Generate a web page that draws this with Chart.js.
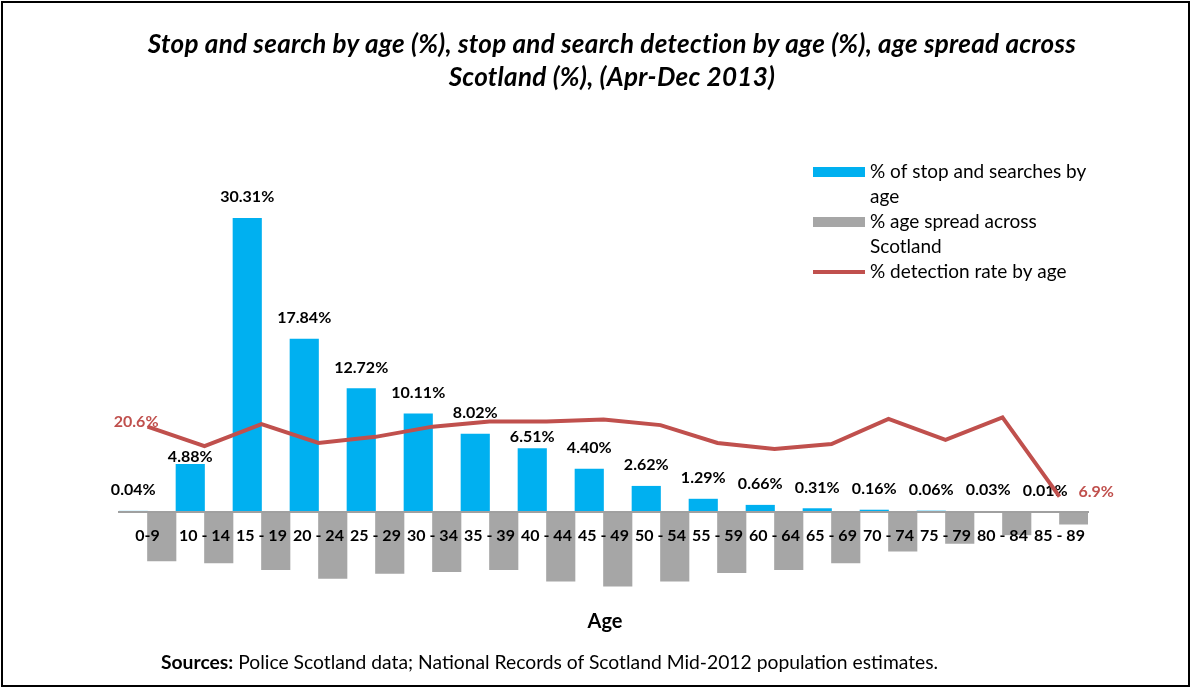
<!DOCTYPE html>
<html>
<head>
<meta charset="utf-8">
<title>Stop and search by age</title>
<script src="https://cdn.jsdelivr.net/npm/chart.js@4.4.1/dist/chart.umd.min.js"></script>
<style>
  body { margin: 0; background: #fff; }
  #wrap { position: relative; width: 1192px; height: 688px; overflow: hidden; font-family: Lato, sans-serif; color: #000; }
  #frame { position: absolute; left: 1px; top: 1px; width: 1189px; height: 686px; border: 2px solid #000; box-sizing: border-box; pointer-events: none; }
  #chart { position: absolute; left: 0; top: 0; }
  .titulo { position: absolute; left: 0; top: 27px; width: 1224px; text-align: center; font-style: italic; font-weight: bold; font-size: 26px; letter-spacing: 0.3px; line-height: 33px; }
  .eje { position: absolute; left: 0; top: 608px; width: 1210px; text-align: center; font-weight: bold; font-size: 20px; }
  .fuente { position: absolute; left: 161px; top: 650px; font-size: 19.3px; white-space: nowrap; }
</style>
</head>
<body>
<div id="wrap">
  <canvas id="chart" width="1192" height="688"></canvas>
  <div class="titulo">Stop and search by age (%), stop and search detection by age (%), age spread across<br>Scotland (%), (Apr-Dec 2013)</div>
  <div class="eje">Age</div>
  <div class="fuente"><b>Sources:</b> Police Scotland data; National Records of Scotland Mid-2012 population estimates.</div>
  <div id="frame"></div>
</div>
<script>
const ageGroups = ['0-9', '10 - 14', '15 - 19', '20 - 24', '25 - 29', '30 - 34', '35 - 39', '40 - 44', '45 - 49',
  '50 - 54', '55 - 59', '60 - 64', '65 - 69', '70 - 74', '75 - 79', '80 - 84', '85 - 89'];
const stopSearchPct = [0.04, 4.88, 30.31, 17.84, 12.72, 10.11, 8.02, 6.51, 4.40, 2.62, 1.29, 0.66, 0.31, 0.16, 0.06, 0.03, 0.01];
const populationPct = [5.1, 5.3, 6.0, 6.9, 6.4, 6.2, 6.0, 7.2, 7.7, 7.2, 6.3, 6.0, 5.3, 4.1, 3.3, 2.4, 1.3];
const detectionPct = [20.6, 16.8, 21.1, 17.4, 18.6, 20.6, 21.6, 21.6, 22.0, 20.9, 17.4, 16.2, 17.2, 22.1, 18.0, 22.4, 6.9];

// a couple of bar labels sit lower so the red line doesn't cross them
const labelDrop = { 1: 14, 7: 9 };

const FONT = 'Lato';

// value labels above the blue bars, first/last values on the line
const valueLabels = {
  id: 'valueLabels',
  beforeDatasetsDraw(chart) {
    const ctx = chart.ctx;
    const bars = chart.getDatasetMeta(0).data;
    ctx.save();
    ctx.font = 'bold 16px ' + FONT;
    ctx.fillStyle = '#000';
    ctx.textAlign = 'center';
    ctx.textBaseline = 'alphabetic';
    bars.forEach((bar, i) => {
      const drop = labelDrop[i] || 0;
      ctx.fillText(stopSearchPct[i].toFixed(2) + '%', bar.x, bar.y - 16 + drop);
    });
    ctx.restore();
  },
  afterDatasetsDraw(chart) {
    const ctx = chart.ctx;
    const pts = chart.getDatasetMeta(2).data;
    const last = pts.length - 1;
    ctx.save();
    ctx.font = 'bold 16px ' + FONT;
    ctx.fillStyle = '#C0504D';
    ctx.textBaseline = 'middle';
    ctx.textAlign = 'right';
    ctx.fillText(detectionPct[0].toFixed(1) + '%', pts[0].x + 11, pts[0].y - 5);
    ctx.textAlign = 'left';
    ctx.fillText(detectionPct[last].toFixed(1) + '%', pts[last].x + 19, pts[last].y - 5);
    ctx.restore();
  }
};

function wrapText(ctx, text, maxWidth) {
  const words = text.split(' ');
  const lines = [];
  let line = '';
  words.forEach(w => {
    const test = line ? line + ' ' + w : w;
    if (line && ctx.measureText(test).width > maxWidth) {
      lines.push(line);
      line = w;
    } else {
      line = test;
    }
  });
  lines.push(line);
  return lines;
}

// legend in the top right corner, long labels wrap onto a second row
const sideLegend = {
  id: 'sideLegend',
  afterDraw(chart) {
    const ctx = chart.ctx;
    const x0 = 813, textX = 870, rowH = 25;
    let y = 172;
    ctx.save();
    ctx.font = '19px ' + FONT;
    ctx.textBaseline = 'middle';
    ctx.textAlign = 'left';
    chart.data.datasets.forEach(ds => {
      const lines = wrapText(ctx, ds.label, 232);
      if (ds.type === 'line') {
        ctx.strokeStyle = ds.borderColor;
        ctx.lineWidth = 4;
        ctx.beginPath();
        ctx.moveTo(x0, y);
        ctx.lineTo(x0 + 52, y);
        ctx.stroke();
      } else {
        ctx.fillStyle = ds.backgroundColor;
        ctx.fillRect(x0, y - 5, 52, 10);
      }
      ctx.fillStyle = '#000';
      lines.forEach((t, k) => ctx.fillText(t, textX, y + k * rowH));
      y += lines.length * rowH;
    });
    ctx.restore();
  }
};

const ctx = document.getElementById('chart');
new Chart(ctx, {
  data: {
    labels: ageGroups,
    datasets: [
      {
        type: 'bar',
        label: '% of stop and searches by age',
        data: stopSearchPct,
        backgroundColor: '#00B0F0',
        yAxisID: 'y',
        order: 1
      },
      {
        type: 'bar',
        label: '% age spread across Scotland',
        data: populationPct.map(v => -v),
        backgroundColor: '#A6A6A6',
        yAxisID: 'y',
        order: 1
      },
      {
        type: 'line',
        label: '% detection rate by age',
        data: detectionPct,
        borderColor: '#C0504D',
        borderWidth: 4,
        pointRadius: 0,
        tension: 0,
        yAxisID: 'y1',
        order: 0
      }
    ]
  },
  options: {
    responsive: false,
    animation: false,
    layout: { padding: { left: 119, right: 104, top: 202, bottom: 99 } },
    datasets: { bar: { categoryPercentage: 1, barPercentage: 1 } },
    plugins: {
      legend: { display: false },
      title: { display: false },
      tooltip: { enabled: false }
    },
    scales: {
      x: {
        position: { y: 0 },
        offset: true,
        grid: { display: false, drawTicks: false },
        border: { display: true, color: '#A0A0A0', width: 2, z: 1 },
        ticks: {
          z: 1,
          color: '#000',
          font: { family: FONT, weight: 'bold', size: 16 },
          padding: 15,
          maxRotation: 0,
          autoSkip: false
        }
      },
      y: { display: false, min: -8, max: 32 },
      y1: { display: false, min: -11.2, max: 64.6 }
    }
  },
  plugins: [valueLabels, sideLegend]
});
</script>
</body>
</html>
